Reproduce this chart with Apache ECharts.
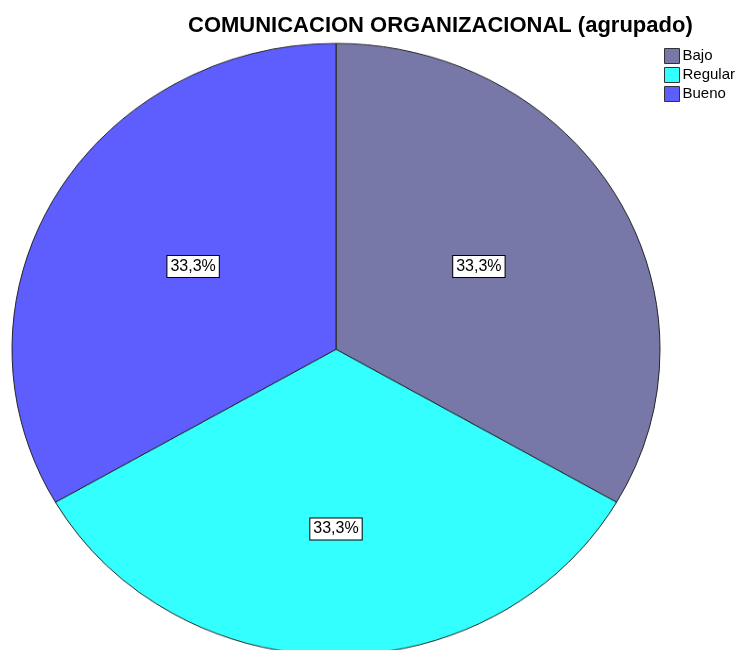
<!DOCTYPE html>
<html>
<head>
<meta charset="utf-8">
<script src="https://cdn.jsdelivr.net/npm/echarts@6/dist/echarts.min.js"></script>
<style>
  html, body { margin: 0; padding: 0; background: #fff; }
  #wrap { position: relative; width: 737px; height: 650px; overflow: hidden; }
  /* the reference pie is slightly elliptical, so the shape layer is squashed vertically */
  #pie { position: absolute; left: 0; top: 0; width: 737px; height: 689px;
         transform: scaleY(0.944); transform-origin: 0 0; }
  #top { position: absolute; left: 0; top: 0; width: 737px; height: 650px; }
</style>
</head>
<body>
<div id="wrap">
  <div id="pie"></div>
  <div id="top"></div>
</div>
<script>
const categories = ["Bajo", "Regular", "Bueno"];
const percents = [33.3, 33.3, 33.3];
const colors = ["#7878a8", "#33ffff", "#5e5eff"];

const fmt = (v) => v.toFixed(1).replace(".", ",") + "%";

const pieData = categories.map((name, i) => ({
  name: name,
  value: percents[i],
  itemStyle: { color: colors[i] },
}));

// shape layer
const pChart = echarts.init(document.getElementById("pie"));
pChart.setOption({
  animation: false,
  series: [
    {
      type: "pie",
      center: [336, 370],
      radius: 324,
      startAngle: 90,
      clockwise: true,
      silent: true,
      label: { show: false },
      labelLine: { show: false },
      itemStyle: { borderColor: "#222", borderWidth: 1 },
      data: pieData,
    },
  ],
});

// text layer: title, legend, labels
const tChart = echarts.init(document.getElementById("top"));
tChart.setOption({
  animation: false,
  title: {
    text: "COMUNICACION ORGANIZACIONAL (agrupado)",
    left: 188,
    top: 15,
    padding: 0,
    textStyle: {
      fontFamily: "Liberation Sans, Arial",
      fontSize: 22,
      fontWeight: "bold",
      color: "#000",
    },
  },
  legend: {
    orient: "vertical",
    left: 664,
    top: 48,
    padding: 0,
    itemWidth: 15,
    itemHeight: 15,
    itemGap: 3,
    icon: "rect",
    selectedMode: false,
    textStyle: {
      fontFamily: "Liberation Sans, Arial",
      fontSize: 15,
      color: "#000",
      padding: [0, 0, 0, -2],
    },
    data: categories.map((name, i) => ({
      name: name,
      itemStyle: { color: colors[i], borderColor: "#333", borderWidth: 1 },
    })),
  },
  series: [
    {
      type: "pie",
      center: [336, 349],
      radius: 324,
      startAngle: 90,
      clockwise: true,
      silent: true,
      itemStyle: { color: "rgba(0,0,0,0)", borderWidth: 0 },
      labelLine: { show: false },
      label: {
        show: true,
        position: "inside",
        formatter: (p) => fmt(p.value),
        fontFamily: "Liberation Sans, Arial",
        fontSize: 16,
        color: "#000",
        backgroundColor: "#fff",
        borderColor: "#000",
        borderWidth: 1,
        padding: [3, 3, 2, 3],
      },
      data: categories.map((name, i) => ({
        name: name,
        value: percents[i],
        label: i === 1 ? { offset: [0, 15] } : {},
      })),
    },
  ],
});
</script>
</body>
</html>
